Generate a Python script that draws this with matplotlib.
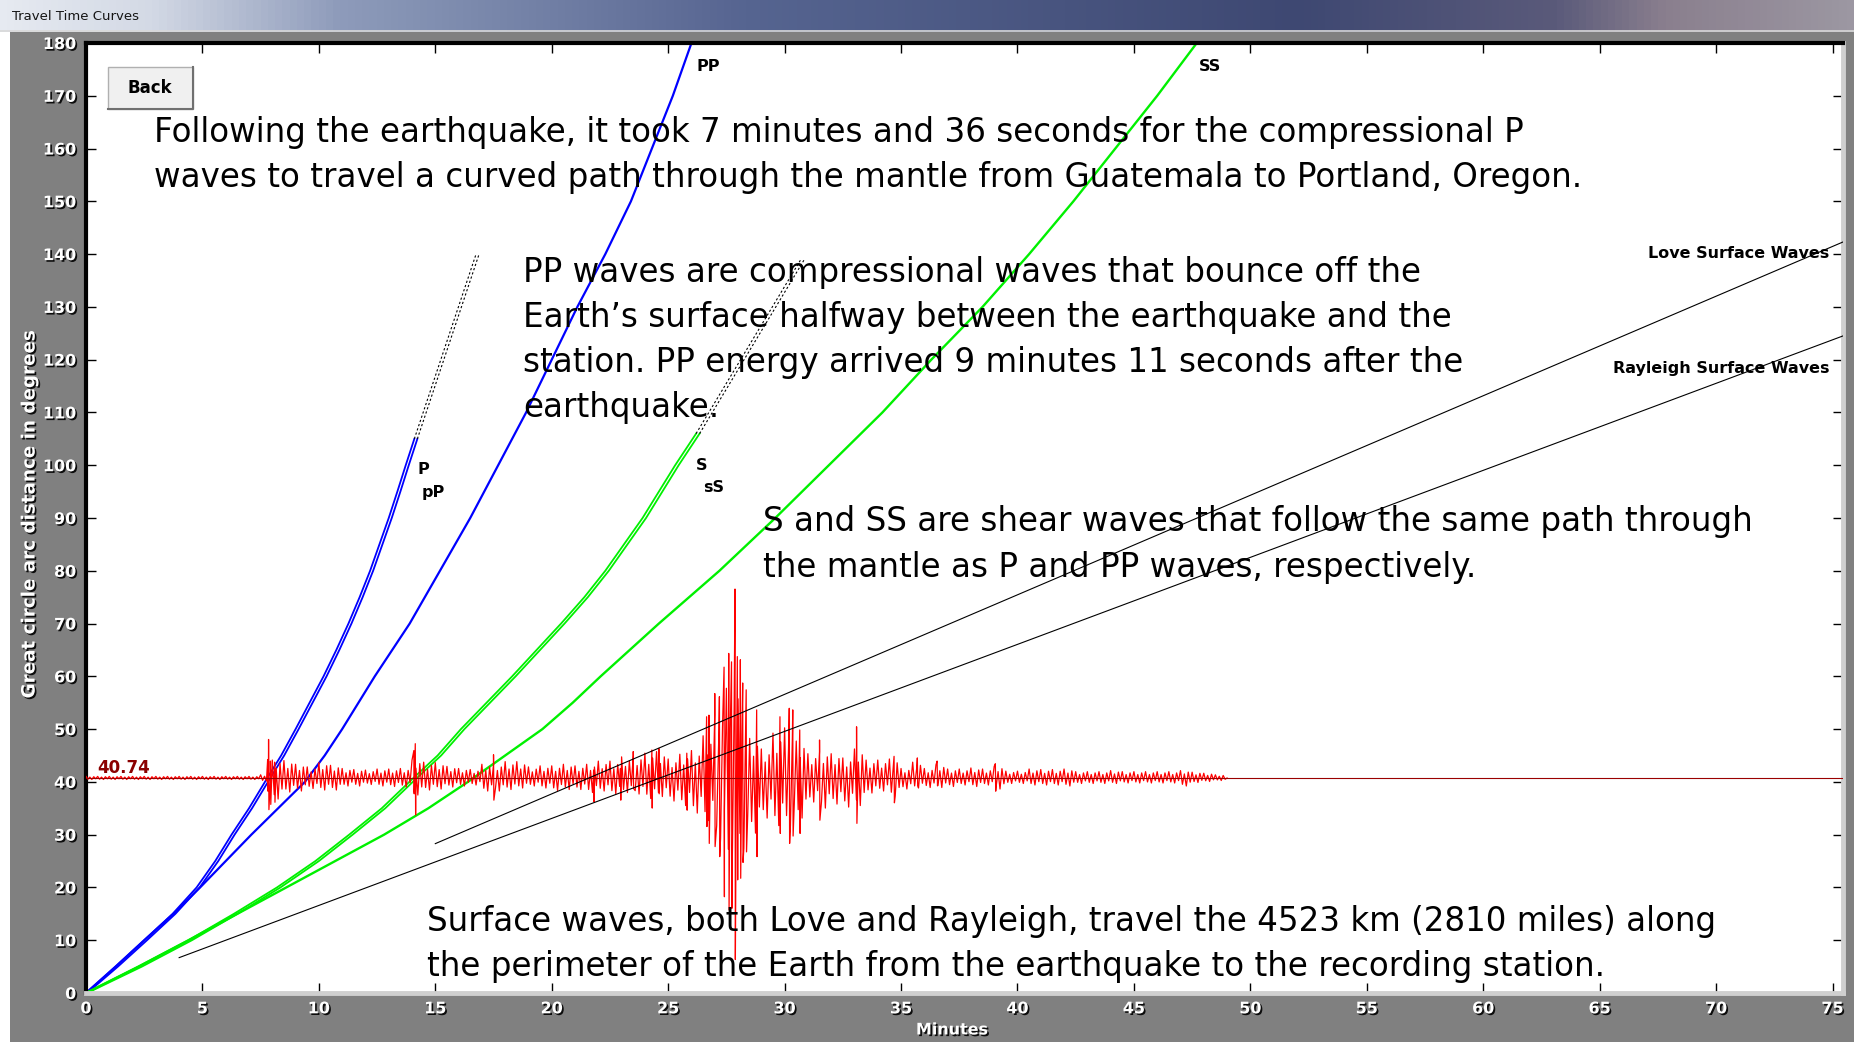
import numpy as np
import matplotlib
matplotlib.use('Agg')
import matplotlib.pyplot as plt
import matplotlib.patheffects as pe
from matplotlib.patches import Rectangle
from matplotlib.lines import Line2D
from matplotlib.colors import LinearSegmentedColormap

# ---- travel-time curves (minutes vs great-circle degrees) ----
P_d = [0, 5, 10, 15, 20, 25, 30, 35, 40.7, 45, 50, 55, 60, 65, 70, 75, 80, 85, 90, 95, 100, 105]
P_t = [0, 1.27, 2.5, 3.72, 4.75, 5.55, 6.25, 7.0, 7.78, 8.38, 9.0, 9.6, 10.2, 10.75, 11.27,
       11.75, 12.2, 12.6, 13.0, 13.37, 13.73, 14.1]
pP_t = [0.05, 1.37, 2.62, 3.84, 4.88, 5.68, 6.38, 7.13, 7.91, 8.51, 9.13, 9.73, 10.33, 10.88,
        11.4, 11.88, 12.33, 12.73, 13.13, 13.5, 13.86, 14.23]
Pdiff_d = [105, 140]
Pdiff_t = [14.1, 16.75]
pPdiff_t = [14.23, 16.88]

PP_d = [0, 5, 10, 15, 20, 25, 30, 35, 40, 45, 50, 55, 60, 65, 70, 75, 80, 85, 90, 95, 100,
        110, 120, 130, 140, 150, 160, 170, 180]
PP_t = [0, 1.27, 2.5, 3.75, 4.9, 6.0, 7.1, 8.25, 9.4, 10.25, 11.0, 11.7, 12.4, 13.15, 13.9,
        14.55, 15.2, 15.85, 16.5, 17.1, 17.7, 18.9, 20.0, 21.1, 22.3, 23.4, 24.3, 25.2, 26.0]

S_d = [0, 5, 10, 15, 20, 25, 30, 35, 40.7, 45, 50, 55, 60, 65, 70, 75, 80, 85, 90, 95, 100, 106]
S_t = [0, 2.25, 4.4, 6.35, 8.2, 9.85, 11.3, 12.7, 14.05, 15.1, 16.1, 17.2, 18.3, 19.35, 20.4,
       21.4, 22.3, 23.1, 23.9, 24.6, 25.3, 26.2]
sS_t = [0.05, 2.4, 4.55, 6.5, 8.35, 10.0, 11.45, 12.85, 14.2, 15.25, 16.25, 17.35, 18.45,
        19.5, 20.55, 21.55, 22.45, 23.25, 24.05, 24.75, 25.45, 26.35]
Sdiff_d = [106, 139]
Sdiff_t = [26.2, 30.7]
sSdiff_t = [26.35, 30.85]

SS_d = [0, 5, 10, 15, 20, 25, 30, 35, 40, 45, 50, 55, 60, 65, 70, 75, 80, 85, 90, 95, 100,
        110, 120, 130, 140, 150, 160, 170, 180]
SS_t = [0, 2.25, 4.4, 6.5, 8.6, 10.7, 12.8, 14.7, 16.4, 18.0, 19.6, 20.9, 22.1, 23.35, 24.6,
        25.9, 27.2, 28.4, 29.6, 30.75, 31.9, 34.2, 36.3, 38.5, 40.5, 42.4, 44.2, 46.0, 47.7]

love_t = [15.0, 75.45]
love_d = [28.3, 142.3]
rayl_t = [4.0, 75.45]
rayl_d = [6.7, 124.5]

# ---- seismogram at 40.74 degrees ----
station = 40.74
# typical upper / lower swing (degrees) in 0.5 minute bins, 0 - 49 min
env_up = [
    0.3, 0.3, 0.3, 0.3, 0.3, 0.3, 0.3, 0.3, 0.3, 0.3,
    0.3, 0.3, 0.3, 0.3, 0.3, 0.6, 3.4, 3.3, 2.6, 2.1,
    2.9, 2.4, 1.8, 1.6, 1.5, 1.7, 1.7, 1.8, 3.4, 3.0,
    2.9, 2.2, 1.8, 1.6, 2.6, 2.6, 3.1, 3.1, 2.1, 2.3,
    2.3, 2.6, 2.3, 2.6, 3.2, 3.2, 4.0, 4.3, 4.7, 5.0,
    3.6, 4.5, 5.2, 8.0, 12.0, 17.0, 15.0, 7.5, 5.5, 8.5,
    9.5, 7.0, 4.6, 5.0, 4.6, 3.8, 5.5, 3.4, 3.4, 3.6,
    1.8, 3.0, 1.8, 2.5, 1.7, 1.7, 1.9, 1.7, 2.2, 1.3,
    1.3, 1.7, 1.6, 1.6, 1.7, 1.2, 1.2, 1.2, 1.4, 1.2,
    1.2, 1.2, 1.2, 1.2, 1.4, 1.1, 0.9, 0.6]
env_lo = [
    0.3, 0.3, 0.3, 0.3, 0.3, 0.3, 0.3, 0.3, 0.3, 0.3,
    0.3, 0.3, 0.3, 0.3, 0.3, 0.6, 4.2, 2.8, 2.6, 2.1,
    2.4, 2.4, 1.6, 1.6, 1.3, 1.6, 1.7, 1.8, 3.4, 2.4,
    2.2, 1.8, 1.6, 1.4, 2.6, 2.6, 2.3, 2.0, 1.6, 2.0,
    2.5, 2.3, 2.3, 2.9, 2.6, 3.2, 2.9, 3.2, 4.1, 3.7,
    4.6, 5.5, 7.0, 8.5, 12.0, 18.0, 14.0, 11.0, 8.0, 9.5,
    9.5, 8.0, 4.8, 6.0, 5.2, 5.8, 5.5, 3.0, 2.6, 3.6,
    2.2, 2.0, 1.9, 1.9, 1.7, 1.4, 1.7, 1.4, 2.2, 1.1,
    1.1, 1.4, 1.4, 1.4, 1.6, 1.1, 1.1, 1.1, 1.1, 1.0,
    1.0, 1.0, 1.0, 1.0, 1.6, 0.9, 0.7, 0.5]
# single large swings (minute, up, down)
spk_t = [7.80, 7.84, 7.92, 8.10, 14.08, 14.14, 17.50, 21.80, 22.95, 23.50, 24.30, 24.60,
         25.80, 26.65, 26.75, 27.00, 27.20, 27.40, 27.60, 27.72, 27.87, 27.97, 28.10, 28.20,
         28.35, 28.80, 29.80, 30.20, 30.35, 30.65, 31.50, 33.09, 34.70, 35.70, 36.55, 39.05]
spk_hi = [3.5, 7.3, 3.2, 3.0, 5.2, 6.5, 4.4, 1.5, 1.8, 5.0, 5.3, 5.6,
          4.7, 11.6, 11.9, 16.0, 15.4, 21.0, 23.6, 22.0, 35.8, 23.0, 22.4, 18.0,
          16.7, 12.9, 11.6, 13.2, 12.9, 9.1, 7.2, 9.7, 4.1, 3.8, 3.2, 2.7]
spk_lo = [2.5, 6.0, 5.0, 4.6, 3.0, 7.0, 4.2, 4.5, 4.2, 2.0, 5.7, 3.0,
          6.1, 9.2, 12.4, 13.0, 14.9, 22.5, 25.0, 24.7, 34.4, 19.3, 19.0, 16.0,
          14.0, 14.9, 10.5, 12.4, 11.0, 10.5, 8.0, 8.6, 4.7, 1.5, 1.5, 2.5]

x_ticks = list(range(0, 80, 5))
y_ticks = list(range(0, 190, 10))

W, H = 1854, 1042


def fx(px):
    return px / W


def fy(py):
    return 1 - py / H


fig = plt.figure(figsize=(W / 100, H / 100), dpi=100, facecolor='#808080')

# window title bar
tb = fig.add_axes([0, fy(32), 1, 32 / H])
tb.set_axis_off()
bar_cm = LinearSegmentedColormap.from_list(
    'bar', [(0, '#e6eaf1'), (0.08, '#d3d9e5'), (0.18, '#8f9cbb'), (0.4, '#566591'),
            (0.7, '#3e4872'), (0.84, '#5a5a7a'), (0.9, '#8a7f8e'), (1, '#9c97a2')])
tb.imshow(np.linspace(0, 1, 256)[None, :], aspect='auto', cmap=bar_cm, extent=[0, 1, 0, 1])
tb.set_xlim(0, 1)
tb.set_ylim(0, 1)
tb.axhline(0.02, color='#d8d8d8', lw=1.2)
fig.text(fx(12), fy(16), 'Travel Time Curves', fontsize=9.5, va='center', color='#151515')
fig.add_artist(Rectangle((0, 0), fx(10), fy(32), transform=fig.transFigure,
                         facecolor='white', edgecolor='none', zorder=0.5))

ax = fig.add_axes([fx(86), fy(993), (1843 - 86) / W, (993 - 43) / H])
ax.set_facecolor('white')
ax.set_xlim(0, 75.45)
ax.set_ylim(0, 180)

green = '#00f000'
blue = '#0000ff'
ax.plot(P_t, P_d, color=blue, lw=1.3, zorder=2)
ax.plot(pP_t, P_d, color=blue, lw=1.3, zorder=2)
ax.plot(PP_t, PP_d, color=blue, lw=1.6, zorder=2)
ax.plot(S_t, S_d, color=green, lw=1.3, zorder=2)
ax.plot(sS_t, S_d, color=green, lw=1.3, zorder=2)
ax.plot(SS_t, SS_d, color=green, lw=1.7, zorder=2)
for tt, dd in [(Pdiff_t, Pdiff_d), (pPdiff_t, Pdiff_d), (Sdiff_t, Sdiff_d), (sSdiff_t, Sdiff_d)]:
    ax.plot(tt, dd, color='black', lw=0.8, ls=(0, (2, 2)), zorder=2)

# seismogram: zigzag between the read swings of each bin, plus single big swings
texture = [1.0, 0.75, 0.55, 0.95, 0.8, 0.5]
pts = []
for i, (u, lo) in enumerate(zip(env_up, env_lo)):
    for k in range(6):
        t = i * 0.5 + k * 0.5 / 6
        pts.append((t, station + (u if k % 2 == 0 else -lo) * texture[k]))
for t, hi, lo in zip(spk_t, spk_hi, spk_lo):
    pts.append((t, station + hi))
    pts.append((t + 0.015, station - lo))
pts.append((49.0, station))
pts.sort()
trace = np.array(pts)
ax.plot(trace[:, 0], trace[:, 1], color='#ff0000', lw=0.9, zorder=3)
ax.axhline(station, color='#9a0000', lw=0.8, zorder=3.5)

ax.plot(love_t, love_d, color='black', lw=0.8, zorder=4)
ax.plot(rayl_t, rayl_d, color='black', lw=0.8, zorder=4)

lab = dict(fontsize=11.5, fontweight='bold', color='black', zorder=6)
ax.text(26.2, 175.5, 'PP', va='center', **lab)
ax.text(47.8, 175.5, 'SS', va='center', **lab)
ax.text(14.25, 99.1, 'P', va='center', **lab)
ax.text(14.4, 94.8, 'pP', va='center', **lab)
ax.text(26.2, 100.0, 'S', va='center', **lab)
ax.text(26.5, 95.7, 'sS', va='center', **lab)
ax.text(74.88, 140.2, 'Love Surface Waves', ha='right', va='center', **lab)
ax.text(74.88, 118.4, 'Rayleigh Surface Waves', ha='right', va='center', **lab)
ax.text(0.5, 42.6, '40.74', color='#8b0000', fontsize=12, fontweight='bold',
        va='center', zorder=6)

# axes frame in the old windows style
for s in ['left', 'top']:
    ax.spines[s].set_color('black')
    ax.spines[s].set_linewidth(3)
for s in ['right', 'bottom']:
    ax.spines[s].set_color('#cfcfcf')
    ax.spines[s].set_linewidth(3.5)

shadow = [pe.withSimplePatchShadow(offset=(1.2, -1.2), shadow_rgbFace='black', alpha=0.9)]
ax.set_xticks(x_ticks, [str(v) for v in x_ticks], fontweight='bold')
ax.set_yticks(y_ticks, [str(v) for v in y_ticks], fontweight='bold')
ax.tick_params(direction='in', length=7, width=1, color='black', top=True, right=True,
               labelsize=11.5, labelcolor='white')
ax.tick_params(axis='x', pad=6)
ax.tick_params(axis='y', pad=7)
for t in ax.get_xticklabels() + ax.get_yticklabels():
    t.set_path_effects(shadow)

ax.set_xlabel('Minutes', color='white', fontweight='bold', fontsize=11.5, path_effects=shadow)
ax.xaxis.set_label_coords(0.493, -0.031)
ax.set_ylabel('Great circle arc distance in degrees', color='white', fontweight='bold',
              fontsize=13.2, path_effects=shadow)
ax.yaxis.set_label_coords(-0.027, 0.504)

# Back button
fig.add_artist(Rectangle((fx(108), fy(109)), (193 - 108) / W, (109 - 67) / H,
                         transform=fig.transFigure, facecolor='#f0f0f0',
                         edgecolor='#b0b0b0', lw=1, zorder=5))
fig.add_artist(Line2D([fx(193), fx(193), fx(108)], [fy(67), fy(109), fy(109)],
                      transform=fig.transFigure, color='#707070', lw=1.5, zorder=5.1))
fig.text(fx(150), fy(88), 'Back', ha='center', va='center', fontsize=12,
         fontweight='bold', zorder=6)

# slide annotations
notes = [
    (154, [142, 187], ['Following the earthquake, it took 7 minutes and 36 seconds for the compressional P',
                       'waves to travel a curved path through the mantle from Guatemala to Portland, Oregon.']),
    (523, [282, 327, 372, 417], ['PP waves are compressional waves that bounce off the',
                                 'Earth\u2019s surface halfway between the earthquake and the',
                                 'station. PP energy arrived 9 minutes 11 seconds after the',
                                 'earthquake.']),
    (763, [531, 577], ['S and SS are shear waves that follow the same path through',
                       'the mantle as P and PP waves, respectively.']),
    (427, [931, 976], ['Surface waves, both Love and Rayleigh, travel the 4523 km (2810 miles) along',
                       'the perimeter of the Earth from the earthquake to the recording station.']),
]
probe = fig.text(0, 0, notes[0][2][1], fontsize=20, family='DejaVu Sans')
w20 = probe.get_window_extent(fig.canvas.get_renderer()).width
probe.remove()
fs = 20 * 1427 / w20
for x0, ys, lines in notes:
    for yb, line in zip(ys, lines):
        fig.text(fx(x0), fy(yb), line, fontsize=fs, va='baseline', color='black',
                 family='DejaVu Sans', zorder=7)

fig.savefig('out.png', dpi=100, facecolor=fig.get_facecolor())
